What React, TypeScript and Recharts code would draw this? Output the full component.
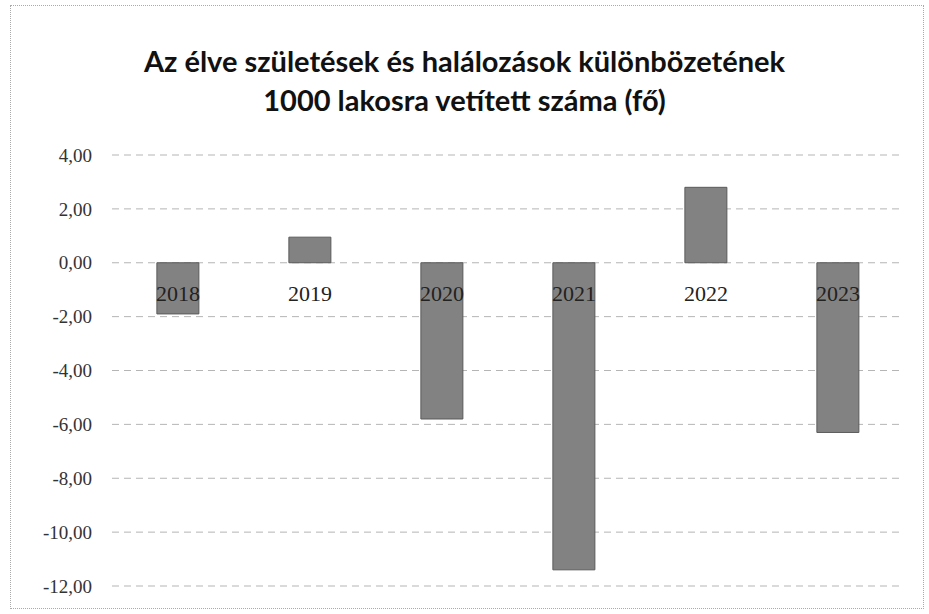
import { BarChart, Bar, XAxis, YAxis, CartesianGrid, LabelList } from "recharts";

const years = ["2018", "2019", "2020", "2021", "2022", "2023"];
const values = [-1.9, 0.95, -5.8, -11.4, 2.8, -6.3];
const yTicks = [4, 2, 0, -2, -4, -6, -8, -10, -12];

const data = years.map((year, i) => ({ year, value: values[i] }));

const fmt = (v: number) => v.toFixed(2).replace(".", ",");

// category label sits just under the zero line, like Excel's "next to axis"
const YearLabel = (props: any) => {
  const { x, y, width, height, index } = props;
  const v = values[index];
  const top = Math.min(y, y + height);
  const bottom = Math.max(y, y + height);
  const zeroY = v >= 0 ? bottom : top;
  return (
    <text
      x={x + width / 2}
      y={zeroY + 38}
      textAnchor="middle"
      fontFamily="'Liberation Serif', serif"
      fontSize={22}
      fill="#222"
    >
      {years[index]}
    </text>
  );
};

export default function App() {
  return (
    <div
      style={{
        position: "absolute",
        left: 0,
        top: 0,
        width: 929,
        height: 614,
        background: "#fff",
      }}
    >
      <div
        style={{
          position: "absolute",
          left: 10,
          top: 5,
          width: 914,
          height: 604,
          border: "1px dotted #aaa",
          boxSizing: "border-box",
        }}
      />
      <div
        style={{
          position: "absolute",
          left: 0,
          top: 41,
          width: 929,
          textAlign: "center",
          fontFamily: "Lato, 'Open Sans', sans-serif",
          fontWeight: 700,
          fontSize: 29,
          lineHeight: "39px",
          color: "#111",
        }}
      >
        Az élve születések és halálozások különbözetének
        <br />
        1000 lakosra vetített száma (fő)
      </div>
      <BarChart
        width={929}
        height={614}
        data={data}
        margin={{ top: 155, right: 25, bottom: 28, left: 0 }}
        barCategoryGap="34%"
        style={{ position: "absolute", left: 0, top: 0 }}
      >
        <CartesianGrid
          horizontal
          vertical={false}
          stroke="#b5b5b5"
          strokeDasharray="7 5"
        />
        <XAxis dataKey="year" hide />
        <YAxis
          domain={[-12, 4]}
          ticks={yTicks}
          width={112}
          tickSize={0}
          tickMargin={20}
          axisLine={false}
          tickLine={false}
          tickFormatter={fmt}
          tick={{
            fill: "#333",
            fontSize: 19,
            fontFamily: "'Liberation Serif', serif",
          }}
        />
        <Bar
          dataKey="value"
          fill="#828282"
          stroke="#5a5a5a"
          strokeWidth={1}
          isAnimationActive={false}
        >
          <LabelList dataKey="year" content={YearLabel} />
        </Bar>
      </BarChart>
    </div>
  );
}
